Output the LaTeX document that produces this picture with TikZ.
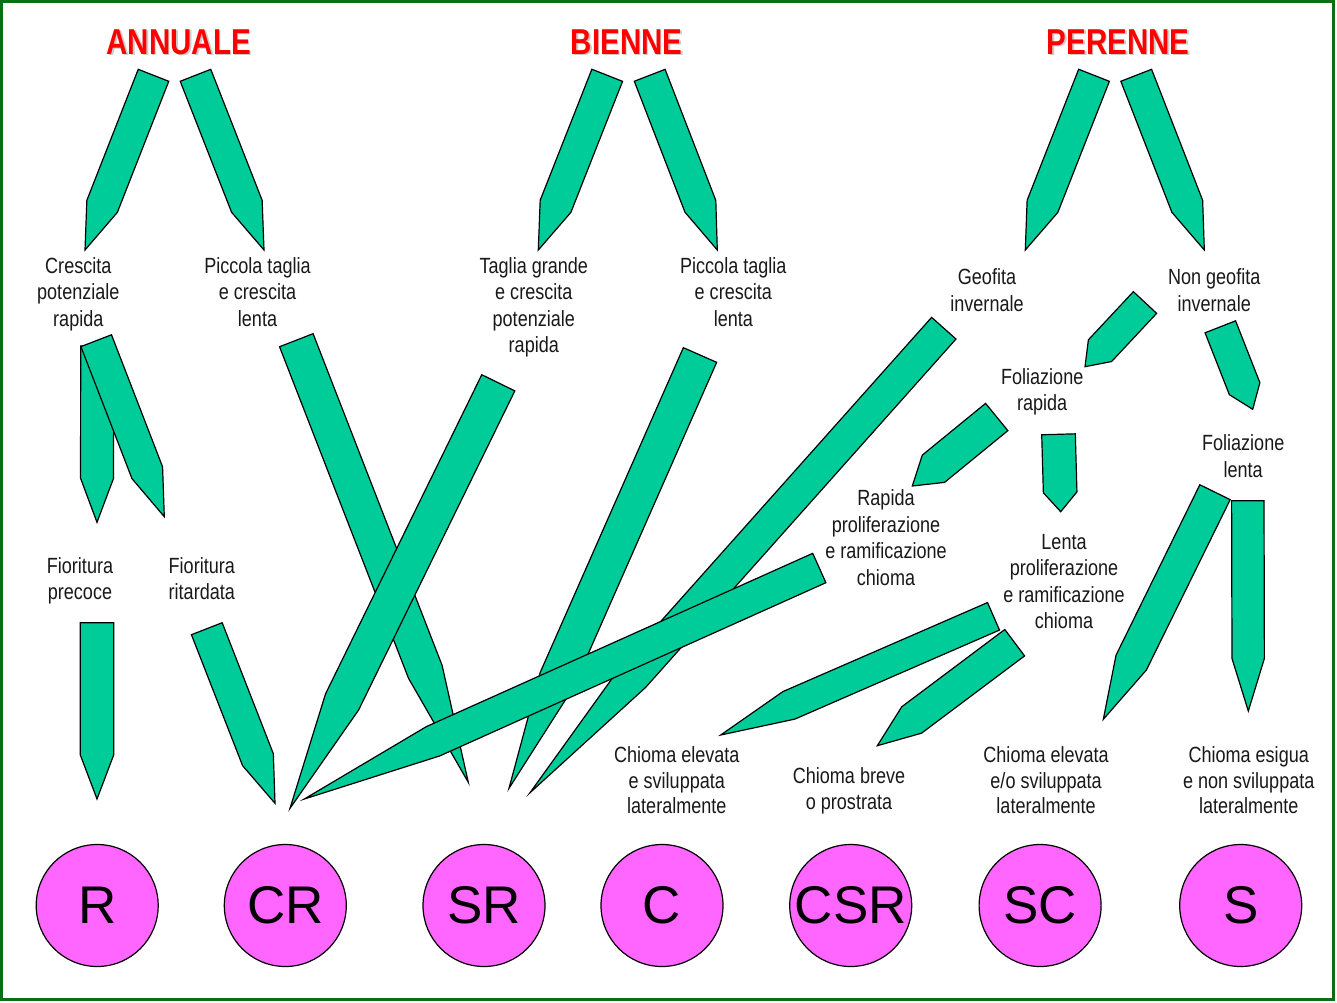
\documentclass[tikz,border=0pt]{standalone}
\usepackage{fontspec}
\setmainfont{Liberation Sans}
\newfontfamily\narrow[FakeStretch=0.82]{Liberation Sans}
\usetikzlibrary{calc}
\definecolor{leaf}{RGB}{0,204,153}
\definecolor{pinkc}{RGB}{255,102,255}
\definecolor{framegreen}{RGB}{10,110,20}
\definecolor{titred}{RGB}{255,0,0}
\definecolor{labgray}{RGB}{25,25,25}
% pencil-shaped arrow: #1 centre of flat end, #2 tip, #3 half width (tip = last quarter)
\newcommand\pencil[3]{%
  \coordinate (ps) at (#1);
  \coordinate (pT) at (#2);
  \coordinate (pb) at ($(ps)!0.75!(pT)$);
  \draw[pencilstyle] ($(ps)!#3pt!90:(pT)$) -- ($(pb)!#3pt!90:(pT)$) -- (pT)
     -- ($(pb)!#3pt!-90:(pT)$) -- ($(ps)!#3pt!-90:(pT)$) -- cycle;
}
\tikzset{
  pencilstyle/.style={fill=leaf, draw=black, line width=1.2pt, line join=miter},
  lab/.style={font=\narrow\fontsize{22}{26.5}\selectfont, align=center, inner sep=0pt,
    anchor=north, text=labgray, execute at begin node={\rule{0pt}{17pt}}},
  labb/.style={lab, font=\narrow\fontsize{22}{25.5}\selectfont},
  titlestyle/.style={font=\narrow\bfseries\fontsize{36}{40}\selectfont, inner sep=0pt,
    anchor=base, text=titred},
  shadowstyle/.style={titlestyle, text=black!20},
  circ/.style={circle, draw=black, line width=1.2pt, fill=pinkc, minimum size=122pt,
    inner sep=0pt, font=\fontsize{53}{60}\selectfont, text=black}
}
\begin{document}
\begin{tikzpicture}[x=1pt,y=-1pt]
\useasboundingbox (0,0) rectangle (1337,1002);
\fill[white] (0,0) rectangle (1337,1002);
\draw[framegreen, line width=3.2pt] (1.6,1.6) rectangle (1333.5,999.8);

% titles
\node[shadowstyle] (tAs) at (180.3,55.5) {ANNUALE};
\node[titlestyle] (tA) at (178.8,54) {ANNUALE};
\node[shadowstyle] (tBs) at (628.2,55.5) {BIENNE};
\node[titlestyle] (tB) at (626.7,54) {BIENNE};
\node[shadowstyle] (tPs) at (1119.8,55.5) {PERENNE};
\node[titlestyle] (tP) at (1118.3,54) {PERENNE};

% short arrows
\pencil{153.5,75.3}{85,250}{16.4}
\pencil{195.5,75.3}{264,250}{16.4}
\pencil{607.2,75.3}{538.3,250}{16.5}
\pencil{649.7,75.3}{717.3,250}{16.5}
\pencil{1094,75.3}{1025.3,250}{16.5}
\pencil{1136.2,75.3}{1204.3,250}{16.5}
\pencil{97.2,346}{97,522.3}{16.5}
\pencil{96.2,340.7}{164.3,516.7}{16.4}
\pencil{97,622.7}{97,799}{16.7}
\pencil{206.8,628.7}{275,803.3}{16.5}
\pencil{1145,302.5}{1085,366.7}{15.9}
\pencil{1220.3,326.8}{1252.7,409.3}{16.4}
\pencil{996.7,417}{912.3,486}{17.6}
\pencil{1058.5,434.3}{1060.7,511.7}{16.8}
\pencil{1215,492.2}{1103.3,719.3}{16.9}
\pencil{1247.8,500.7}{1248.3,711}{16.2}
\pencil{993.5,616.3}{720.7,735}{15}
\pencil{1014.7,642.7}{877.3,745.7}{16.5}
% long arrows
\pencil{296.3,340.2}{468.3,782.3}{18}
\pencil{498.3,382.8}{290,808.3}{18.4}
\pencil{700,355}{509,788.3}{18.2}
\pencil{943.8,328.2}{530,792.7}{16.3}
\pencil{819.3,568}{304.3,799}{16.1}

% labels
\node[lab] (l1) at (78.3,257) {Crescita\\potenziale\\rapida};
\node[lab] (l2) at (257.5,257) {Piccola taglia\\e crescita\\lenta};
\node[lab] (l3) at (533.8,257) {Taglia grande\\e crescita\\potenziale\\rapida};
\node[lab] (l4) at (733.3,257) {Piccola taglia\\e crescita\\lenta};
\node[lab] (l5) at (987,268.7) {Geofita\\invernale};
\node[lab] (l6) at (1214.2,268.7) {Non geofita\\invernale};
\node[lab] (l7) at (1042.2,368) {Foliazione\\rapida};
\node[lab] (l8) at (1243.2,434.7) {Foliazione\\lenta};
\node[lab] (l9) at (886,489.5) {Rapida\\proliferazione\\e ramificazione\\chioma};
\node[lab] (l10) at (1064,533.7) {Lenta\\proliferazione\\e ramificazione\\chioma};
\node[lab] (l11) at (80,557) {Fioritura\\precoce};
\node[lab] (l12) at (201.8,557) {Fioritura\\ritardata};
\node[labb] (l13) at (676.8,746.4) {Chioma elevata\\e sviluppata\\lateralmente};
\node[labb] (l14) at (849,767.8) {Chioma breve\\o prostrata};
\node[labb] (l15) at (1046.1,746.4) {Chioma elevata\\e/o sviluppata\\lateralmente};
\node[labb] (l16) at (1248.7,746.4) {Chioma esigua\\e non sviluppata\\lateralmente};

% strategy circles
\node[circ] (cR) at (97.2,905.5) {R};
\node[circ] (cCR) at (285.3,905.5) {CR};
\node[circ] (cSR) at (484,905.5) {SR};
\node[circ] (cC) at (662,905.5) {C};
\node[circ] (cCSR) at (850.7,905.5) {CSR};
\node[circ] (cSC) at (1040.1,905.5) {SC};
\node[circ] (cS) at (1240.7,905.5) {S};
\end{tikzpicture}
\end{document}
